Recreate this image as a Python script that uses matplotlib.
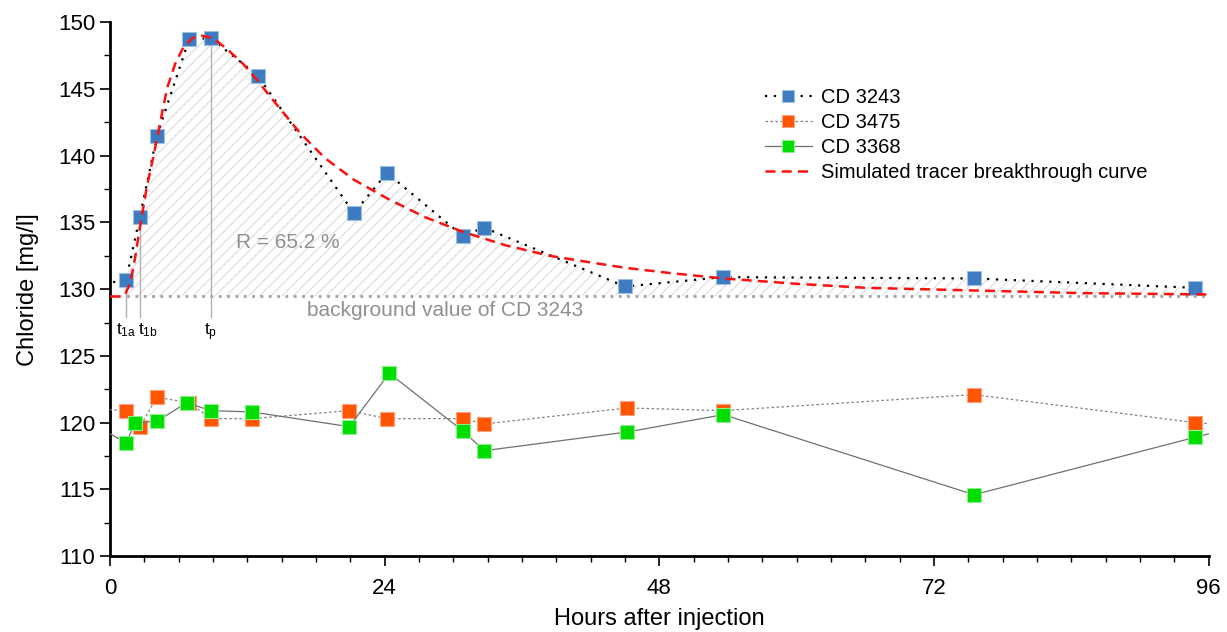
import matplotlib.pyplot as plt
from matplotlib.ticker import MultipleLocator
import numpy as np

plt.rcParams['font.family'] = ['Liberation Sans', 'DejaVu Sans']
plt.rcParams['hatch.color'] = '#d8d8d8'
plt.rcParams['hatch.linewidth'] = 0.7

# CD 3243 (first and last points lie outside 0..96, they only carry the line to the edges)
x_3243 = [-0.5, 1.4, 2.6, 4.1, 6.9, 8.8, 12.9, 21.3, 24.2, 30.8, 32.7, 45.0, 53.6, 75.5, 94.8, 98.0]
y_3243 = [130.4, 130.7, 135.4, 141.5, 148.7, 148.8, 146.0, 135.7, 138.7, 134.0, 134.6, 130.2, 130.9, 130.8, 130.1, 130.0]

# CD 3475
x_3475 = [-0.5, 1.4, 2.6, 4.1, 6.9, 8.8, 12.4, 20.9, 24.2, 30.8, 32.7, 45.2, 53.6, 75.5, 94.8, 98.0]
y_3475 = [121.0, 120.9, 119.7, 121.9, 121.5, 120.3, 120.3, 120.9, 120.3, 120.3, 119.9, 121.1, 120.9, 122.1, 120.0, 119.8]

# CD 3368
x_3368 = [-0.5, 1.4, 2.2, 4.1, 6.7, 8.8, 12.4, 20.9, 24.4, 30.8, 32.7, 45.2, 53.6, 75.5, 94.8, 98.0]
y_3368 = [119.4, 118.5, 120.0, 120.1, 121.5, 120.9, 120.8, 119.7, 123.7, 119.4, 117.9, 119.3, 120.6, 114.6, 118.9, 119.6]

# simulated tracer breakthrough curve
x_sim = [0, 1.0, 1.3, 1.75, 2.2, 2.6, 3.2, 3.9, 4.5, 5.0, 5.7, 6.4, 7.2, 7.9, 9.0, 10.2,
         11.6, 12.9, 14.2, 16.6, 18.8, 21.3, 24.2, 27.5, 30.8, 34.5, 38.4, 42, 45, 49,
         53.6, 60, 66, 75.5, 85, 96]
y_sim = [129.45, 129.45, 129.6, 130.4, 132.4, 134.6, 137.6, 140.4, 143.0, 145.1, 146.9, 148.1,
         148.8, 149.0, 148.8, 148.0, 146.9, 145.6, 144.2, 141.7, 139.8, 138.2, 136.8, 135.4,
         134.3, 133.3, 132.5, 132.0, 131.6, 131.2, 130.8, 130.4, 130.1, 129.9, 129.7, 129.6]

background = 129.45
t1a, t1b, tp = 1.4, 2.6, 8.8

fig = plt.figure(figsize=(12.27, 6.32), dpi=100)
ax = fig.add_axes([0.0897, 0.120, 0.8953, 0.845])

# hatched area under the measured curve
xs = np.array(x_3243[1:-1])
ys = np.array(y_3243[1:-1])
ax.fill_between(xs, background, ys, facecolor='none', edgecolor='#d8d8d8',
                hatch='///', linewidth=0, zorder=1)

ax.axhline(background, color='#a0a0a0', linestyle=(0, (1, 2)), linewidth=2, zorder=2)

for t in [t1a, t1b, tp]:
    yv = np.interp(t, xs, ys)
    ax.plot([t, t], [127.9, yv], color='#b0b0b0', linewidth=1, zorder=2)

ax.text(t1a, 127.6, r'$\mathregular{t_{1a}}$', ha='center', va='top', fontsize=12.5)
ax.text(t1b + 0.7, 127.6, r'$\mathregular{t_{1b}}$', ha='center', va='top', fontsize=12.5)
ax.text(tp, 127.6, r'$\mathregular{t_{p}}$', ha='center', va='top', fontsize=12.5)

ax.text(11, 133.5, 'R = 65.2 %', color='#909090', fontsize=15, ha='left', va='center')
ax.text(17.2, 128.4, 'background value of CD 3243', color='#909090', fontsize=15,
        ha='left', va='center')

inner = slice(1, -1)
ax.plot(x_3243, y_3243, color='black', linestyle=(0, (1, 3)), linewidth=1.6,
        marker='s', markersize=10, markerfacecolor='#3d7cc0', markeredgecolor='#9dbfe3',
        markeredgewidth=0.8, markevery=inner, label='CD 3243', zorder=3)
ax.plot(x_3475, y_3475, color='#808080', linestyle=(0, (2, 2)), linewidth=0.9,
        marker='s', markersize=10, markerfacecolor='#ff5500', markeredgecolor='#ffa080',
        markeredgewidth=0.8, markevery=inner, label='CD 3475', zorder=3)
ax.plot(x_3368, y_3368, color='#707070', linestyle='-', linewidth=0.9,
        marker='s', markersize=10, markerfacecolor='#00dd00', markeredgecolor='#90f090',
        markeredgewidth=0.8, markevery=inner, label='CD 3368', zorder=4)
ax.plot(x_sim, y_sim, color='#ff1010', linestyle=(0, (4, 2.5)), linewidth=1.8,
        label='Simulated tracer breakthrough curve', zorder=5)

ax.set_xlim(0, 96)
ax.set_ylim(110, 150)
ax.xaxis.set_major_locator(MultipleLocator(24))
ax.xaxis.set_minor_locator(MultipleLocator(3))
ax.yaxis.set_major_locator(MultipleLocator(5))
ax.yaxis.set_minor_locator(MultipleLocator(2.5))
ax.tick_params(axis='both', which='major', labelsize=16, width=1.2, length=7)
ax.tick_params(axis='both', which='minor', width=1.0, length=4)
ax.tick_params(axis='x', pad=9)

for s in ['top', 'right']:
    ax.spines[s].set_visible(False)
for s in ['left', 'bottom']:
    ax.spines[s].set_linewidth(2)

ax.set_xlabel('Hours after injection', fontsize=17, labelpad=6)
ax.set_ylabel('Chloride [mg/l]', fontsize=17, labelpad=14)

ax.legend(loc='upper left', bbox_to_anchor=(0.58, 0.91), frameon=False, fontsize=14.5,
          handlelength=2.3, handletextpad=0.45, labelspacing=0.3, markerscale=0.8)

fig.savefig('out.png', dpi=100)
